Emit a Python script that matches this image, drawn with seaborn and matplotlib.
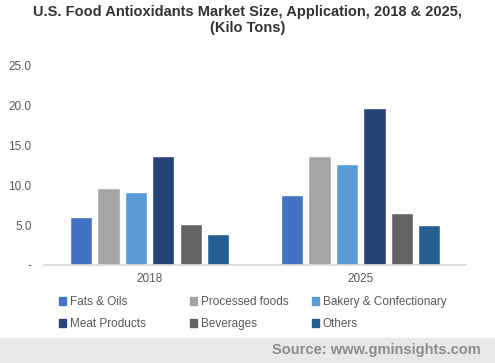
import pandas as pd
import matplotlib.pyplot as plt
import seaborn as sns

sns.set_theme(style="white")
plt.rcParams["font.family"] = ["Liberation Sans", "DejaVu Sans"]

# data
years = ["2018", "2025"]
segments = ["Fats & Oils", "Processed foods", "Bakery & Confectionary",
            "Meat Products", "Beverages", "Others"]
vals_2018 = [6.0, 9.6, 9.1, 13.6, 5.1, 3.9]
vals_2025 = [8.8, 13.6, 12.6, 19.7, 6.5, 5.0]
colors = ["#4472C4", "#A5A5A5", "#5B9BD5", "#264478", "#636363", "#255E91"]

df = pd.DataFrame({
    "year": [y for y in years for _ in segments],
    "segment": segments * 2,
    "value": vals_2018 + vals_2025,
})

fig = plt.figure(figsize=(4.95, 3.63), dpi=100)
ax = fig.add_axes([0.089, 0.27, 0.853, 0.55])

sns.barplot(data=df, x="year", y="value", hue="segment", palette=colors,
            width=0.78, gap=0.19, saturation=1, ax=ax)

ax.set_ylim(0, 25)
ax.set_yticks([0, 5, 10, 15, 20, 25])
ax.set_yticklabels(["-", "5.0", "10.0", "15.0", "20.0", "25.0"])
ax.set_xlabel("")
ax.set_ylabel("")
ax.tick_params(axis="both", labelsize=8.5, colors="#595959", length=0)
ax.tick_params(axis="x", pad=6)
ax.tick_params(axis="y", pad=9)
for s in ["top", "right", "left"]:
    ax.spines[s].set_visible(False)
ax.spines["bottom"].set_color("#D9D9D9")
ax.legend_.remove()

# legend: three columns placed separately, row-major order
handles = [plt.Rectangle((0, 0), 1, 1, color=c) for c in colors]
col_x = [0.119, 0.384, 0.631]
for i, x in enumerate(col_x):
    idx = [i, i + 3]
    fig.legend([handles[j] for j in idx], [segments[j] for j in idx],
               loc="center left", bbox_to_anchor=(x, 0.137), ncol=1,
               frameon=False, fontsize=8.5, labelcolor="#595959",
               handlelength=0.6, handleheight=0.6, handletextpad=0.3,
               labelspacing=0.85, borderaxespad=0, borderpad=0)

fig.suptitle("U.S. Food Antioxidants Market Size, Application, 2018 & 2025,\n(Kilo Tons)",
             fontsize=10.5, fontweight="bold", color="#333333", y=0.985, linespacing=1.1)

# source band
fig.patches.append(plt.Rectangle((0, 0), 1, 0.069, transform=fig.transFigure,
                                 color="#E8E8E8", zorder=0))
fig.text(0.972, 0.037, "Source: www.gminsights.com", ha="right", va="center",
         fontsize=10.5, fontweight="bold", color="#8C8C8C")

fig.savefig("out.png", dpi=100)
